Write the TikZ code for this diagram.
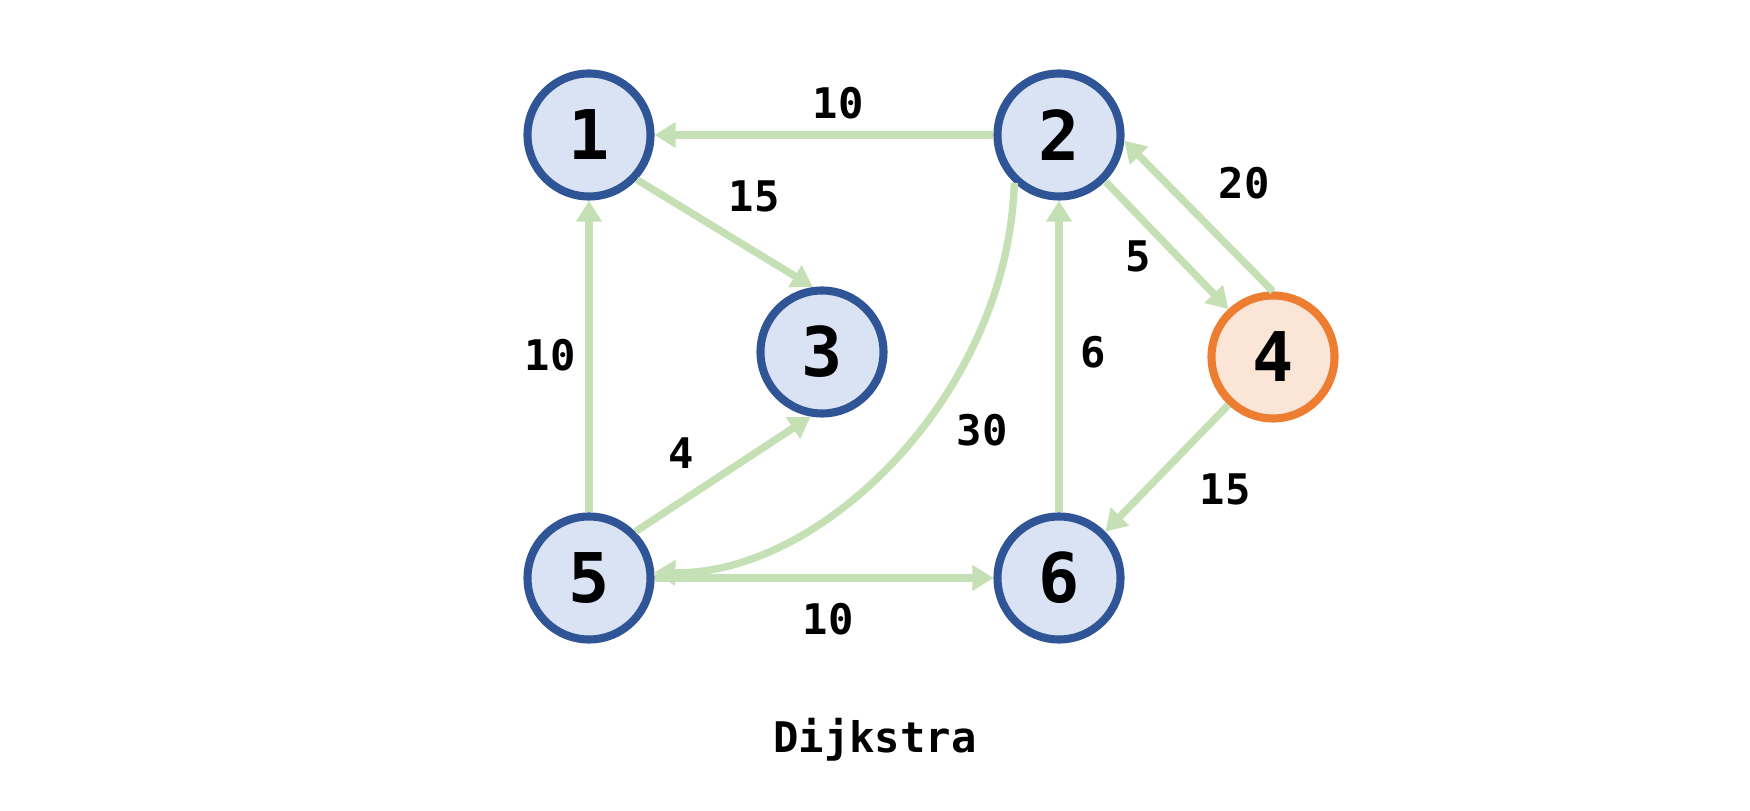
\documentclass[tikz,border=0pt]{standalone}
\usepackage{fontspec}
\setmonofont{DejaVu Sans Mono}
\usetikzlibrary{arrows.meta}
\definecolor{vtxBlue}{HTML}{2F5597}
\definecolor{vtxLight}{HTML}{DAE3F3}
\definecolor{srcOrange}{HTML}{ED7D31}
\definecolor{srcLight}{HTML}{FBE5D6}
\definecolor{edgeGreen}{HTML}{C5E0B4}

\begin{document}
\begin{tikzpicture}[
  vertex/.style={circle, draw=vtxBlue, fill=vtxLight, line width=4.6pt, minimum size=2.46cm, inner sep=0pt, font=\ttfamily\bfseries\fontsize{39}{39}\selectfont},
  source/.style={vertex, draw=srcOrange, fill=srcLight},
  edge/.style={-{Triangle[length=12pt,width=14pt]}, line width=4.2pt, color=edgeGreen},
  weight/.style={font=\ttfamily\bfseries\fontsize{24}{24}\selectfont}]
  \useasboundingbox (0,0) rectangle (35,16.22);

  % vertices
  \node[vertex] (n1) at (11.78,13.52) {1};
  \node[vertex] (n2) at (21.18,13.52) {2};
  \node[vertex] (n3) at (16.44,9.18) {3};
  \node[source] (n4) at (25.46,9.08) {4};
  \node[vertex] (n5) at (11.78,4.66) {5};
  \node[vertex] (n6) at (21.18,4.66) {6};

  % edges
  \draw[edge] (n2) -- (n1);
  \draw[edge] (n1.-43) -- (n3.98);
  \draw[edge] (n2.-45) -- (n4.133);
  \draw[edge] (n4.north) -- (n2.-5);
  \draw[edge] (n2.-133) .. controls (20.15,8.3) and (16.4,4.7) .. (n5.5);
  \draw[edge] (n4.-133) -- (n6.45);
  \draw[edge] (n5) -- (n1);
  \draw[edge] (n5.45) -- (n3.-100);
  \draw[edge] (n5.east) -- (n6.west);
  \draw[edge] (n6) -- (n2);

  % weights
  \node[weight] (w21) at (16.76,14.16) {10};
  \node[weight] (w13) at (15.08,12.30) {15};
  \node[weight] (w42) at (24.88,12.56) {20};
  \node[weight] (w24) at (22.76,11.10) {5};
  \node[weight] (w51) at (11.00,9.12) {10};
  \node[weight] (w62) at (21.86,9.18) {6};
  \node[weight] (w25) at (19.64,7.62) {30};
  \node[weight] (w53) at (13.62,7.16) {4};
  \node[weight] (w46) at (24.50,6.44) {15};
  \node[weight] (w56) at (16.56,3.84) {10};

  \node[weight] (title) at (17.5,1.42) {Dijkstra};
\end{tikzpicture}
\end{document}
